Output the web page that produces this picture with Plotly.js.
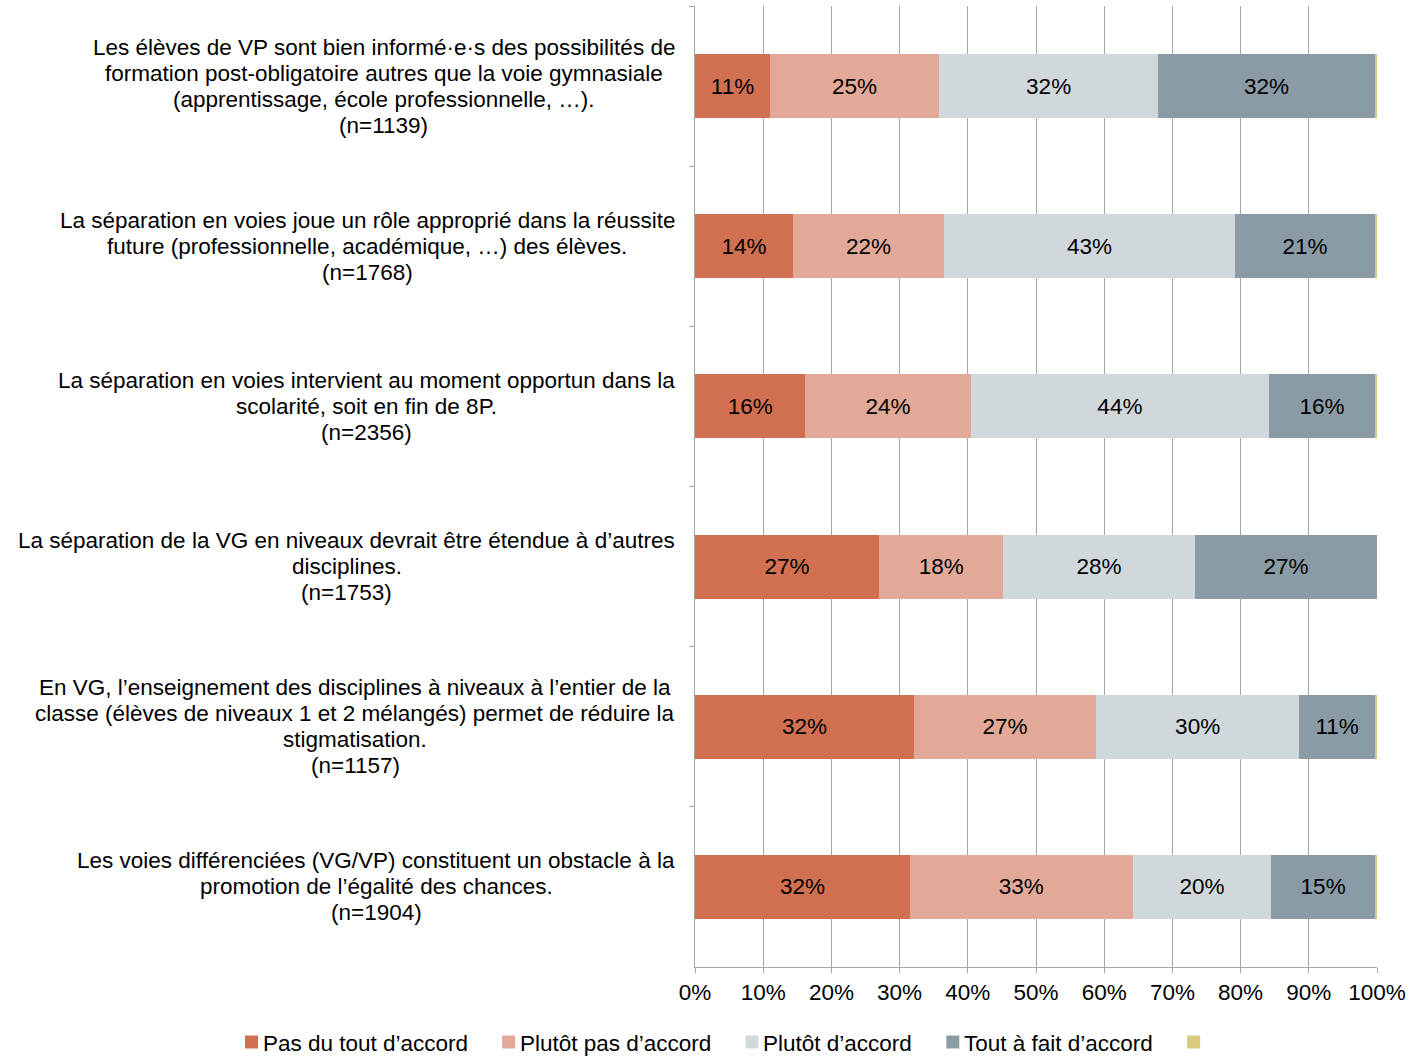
<!DOCTYPE html>
<html>
<head>
<meta charset="utf-8">
<script src="https://cdn.plot.ly/plotly-3.0.1.min.js"></script>
<style>html,body{margin:0;padding:0;background:#fff;}#chart{width:1410px;height:1057px;}</style>
</head>
<body>
<div id="chart"></div>
<script>
const categories = [
  "Les élèves de VP sont bien informé·e·s des possibilités de<br>formation post-obligatoire autres que la voie gymnasiale<br>(apprentissage, école professionnelle, …).<br>(n=1139)",
  "La séparation en voies joue un rôle approprié dans la réussite<br>future (professionnelle, académique, …) des élèves.<br>(n=1768)",
  "La séparation en voies intervient au moment opportun dans la<br>scolarité, soit en fin de 8P.<br>(n=2356)",
  "La séparation de la VG en niveaux devrait être étendue à d’autres<br>disciplines.<br>(n=1753)",
  "En VG, l’enseignement des disciplines à niveaux à l’entier de la<br>classe (élèves de niveaux 1 et 2 mélangés) permet de réduire la<br>stigmatisation.<br>(n=1157)",
  "Les voies différenciées (VG/VP) constituent un obstacle à la<br>promotion de l’égalité des chances.<br>(n=1904)"
];
const seriesNames = ["Pas du tout d’accord", "Plutôt pas d’accord", "Plutôt d’accord", "Tout à fait d’accord", ""];
const pasDuTout   = [11.0, 14.4, 16.2, 27.0, 32.1, 31.5];
const plutotPas   = [24.8, 22.1, 24.2, 18.2, 26.7, 32.7];
const plutot      = [32.1, 42.7, 43.8, 28.1, 29.8, 20.3];
const toutAFait   = [31.8, 20.5, 15.5, 26.7, 11.1, 15.2];
const sansReponse = [0.3, 0.3, 0.3, 0.0, 0.3, 0.3];
const xTickVals = [0,10,20,30,40,50,60,70,80,90,100];
const xTickText = ["0%","10%","20%","30%","40%","50%","60%","70%","80%","90%","100%"];

const colors = ["#D07050", "#E3A998", "#D0D8DC", "#8A9BA6", "#D6CC7C"];
const series = [pasDuTout, plutotPas, plutot, toutAFait, sansReponse];
const FONT = "Arial, 'Liberation Sans', sans-serif";
const FS = 22.5;

const traces = series.map((vals, i) => ({
  type: "bar",
  orientation: "h",
  name: seriesNames[i],
  y: categories,
  x: vals,
  width: 0.4,
  marker: {color: colors[i], line: {width: 0}},
  text: i < 4 ? vals.map(v => Math.round(v) + "%") : vals.map(() => ""),
  textposition: i < 4 ? "inside" : "none",
  insidetextanchor: "middle",
  textangle: 0,
  textfont: {family: FONT, size: FS, color: "#000"},
  constraintext: "none",
  hoverinfo: "x+name",
  showlegend: false
}));

const M = {l: 695, r: 33, t: 6, b: 90};
const W = 1410, H = 1057;
const plotW = W - M.l - M.r, plotH = H - M.t - M.b;
const pxToPaperX = px => (px - M.l) / plotW;
const pxToPaperY = py => (H - M.b - py) / plotH;

const measure = document.createElement("canvas").getContext("2d");
measure.font = FS + "px Arial, 'Liberation Sans', sans-serif";
const textW = s => measure.measureText(s).width;

// Category labels: centred lines, block right-aligned 20px left of the plot area
const LINE_H = 26;
const annotations = [];
categories.forEach(c => {
  const lines = c.split("<br>");
  const bw = Math.max(...lines.map(textW));
  lines.forEach((ln, j) => {
    annotations.push({
      xref: "paper", yref: "y", x: 0, y: c, xanchor: "center", yanchor: "middle",
      xshift: -20 - bw / 2, yshift: -(j - (lines.length - 1) / 2) * LINE_H,
      showarrow: false, text: ln,
      font: {family: FONT, size: FS, color: "#000"}
    });
  });
});

// Legend drawn as squares + labels along the bottom
const shapes = [];
const LEG_Y = 1042, SQ = 13;
let cursor = 245;
seriesNames.forEach((name, i) => {
  shapes.push({
    type: "rect", xref: "paper", yref: "paper", layer: "above",
    x0: pxToPaperX(cursor), x1: pxToPaperX(cursor + SQ),
    y0: pxToPaperY(LEG_Y + SQ / 2), y1: pxToPaperY(LEG_Y - SQ / 2),
    fillcolor: colors[i], line: {width: 0}
  });
  if (name) {
    annotations.push({
      xref: "paper", yref: "paper", x: pxToPaperX(cursor + SQ + 3), y: pxToPaperY(LEG_Y + 1),
      xanchor: "left", yanchor: "middle", showarrow: false, text: name,
      font: {family: FONT, size: FS, color: "#000"}
    });
  }
  cursor += SQ + 3 + textW(name) + 36;
});

const layout = {
  width: W, height: H,
  margin: {l: M.l, r: M.r, t: M.t, b: M.b, pad: 0, autoexpand: false},
  barmode: "stack",
  paper_bgcolor: "#fff", plot_bgcolor: "#fff",
  font: {family: FONT, size: FS, color: "#000"},
  xaxis: {
    range: [0, 100], tickvals: xTickVals, ticktext: xTickText,
    showgrid: true, gridcolor: "#A6A6A6", gridwidth: 1,
    showline: true, linecolor: "#A6A6A6", linewidth: 1,
    ticks: "outside", ticklen: 5, tickcolor: "#A6A6A6",
    zeroline: false, fixedrange: true, automargin: false,
    tickfont: {family: FONT, size: FS, color: "#000"}
  },
  yaxis: {
    type: "category", autorange: "reversed",
    showticklabels: false, showgrid: false,
    showline: true, linecolor: "#A6A6A6", linewidth: 1,
    ticks: "outside", ticklen: 5, tickcolor: "#A6A6A6", tickson: "boundaries",
    zeroline: false, fixedrange: true, automargin: false
  },
  showlegend: false,
  annotations: annotations,
  shapes: shapes
};

Plotly.newPlot("chart", traces, layout, {displayModeBar: false, staticPlot: true});
</script>
</body>
</html>
